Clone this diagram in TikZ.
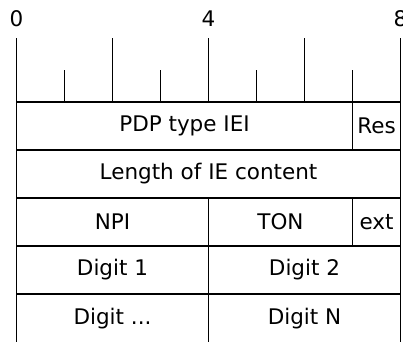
\documentclass[tikz,border=0pt]{standalone}
\usepackage{fontspec}
\setmainfont{DejaVu Sans}

\tikzset{
  field/.style={draw, line width=1.4pt, rectangle, inner sep=0pt,
    minimum height=48pt, font=\fontsize{21.5}{24}\selectfont},
  bitlbl/.style={font=\fontsize{21.5}{24}\selectfont, inner sep=0pt}
}

\begin{document}
\begin{tikzpicture}[x=48pt,y=48pt]
			\useasboundingbox (-0.344,-5) rectangle (8.052,2.125);
			% bit ruler
			\foreach \b in {0,2,4,6,8} \draw[line width=1.4pt] (\b,0) -- (\b,1.333);
			\foreach \b in {1,3,5,7} \draw[line width=1.4pt] (\b,0) -- (\b,0.667);
			\node[bitlbl] (b0) at (0,1.73) {0};
			\node[bitlbl] (b4) at (4,1.73) {4};
			\node[bitlbl] (b8) at (8,1.73) {8};

			% octet 1
			\node[field, minimum width=336pt] (iei) at (3.5,-0.5) {PDP type IEI};
			\node[field, minimum width=48pt] (res) at (7.5,-0.5) {Res};
			% octet 2
			\node[field, minimum width=384pt] (len) at (4,-1.5) {Length of IE content};
			% octet 3
			\node[field, minimum width=192pt] (npi) at (2,-2.5) {NPI};
			\node[field, minimum width=144pt] (ton) at (5.5,-2.5) {TON};
			\node[field, minimum width=48pt] (ext) at (7.5,-2.5) {ext};
			% octet 4
			\node[field, minimum width=192pt] (dg1) at (2,-3.5) {Digit 1};
			\node[field, minimum width=192pt] (dg2) at (6,-3.5) {Digit 2};
			% octet 5
			\node[field, minimum width=192pt, minimum height=50pt] (dgx) at (2,-4.52) {Digit ...};
			\node[field, minimum width=192pt, minimum height=50pt] (dgn) at (6,-4.52) {Digit N};
			\end{tikzpicture}
\end{document}
